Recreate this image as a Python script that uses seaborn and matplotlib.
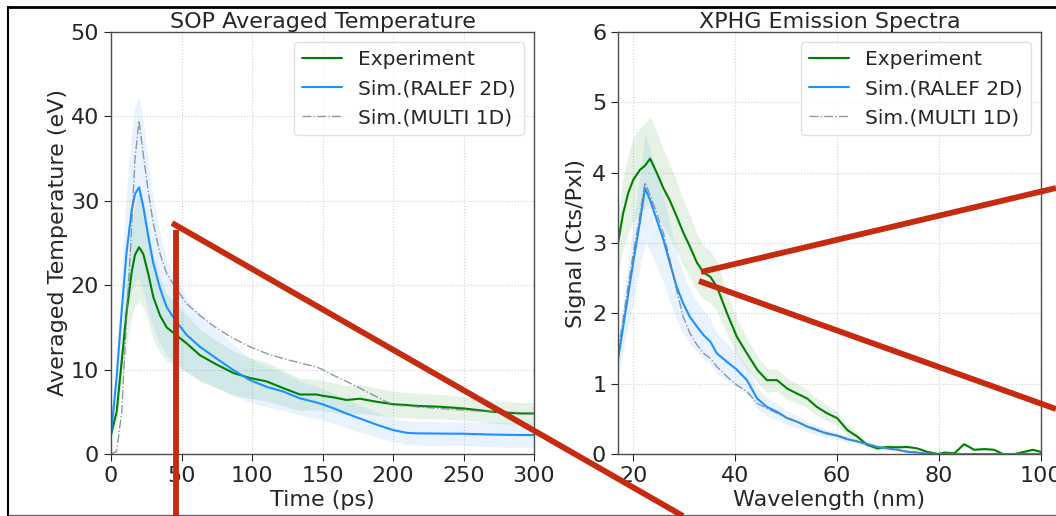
import numpy as np
import pandas as pd
import matplotlib
matplotlib.use("Agg")
import matplotlib.pyplot as plt
from matplotlib.lines import Line2D
import seaborn as sns

# ---------------- data: left panel (SOP averaged temperature) ----------------
time_ps = [0, 4, 7.6, 11.1, 14.7, 17, 19.9, 22.9, 26.5, 30, 34.8, 39.5, 45.4, 53.7,
           63.1, 74.9, 86.8, 98.6, 110.4, 122.2, 134, 145.9, 150, 158, 167, 176.6,
           188, 200, 210, 217, 233, 250, 271, 290, 300]
exp_temp = [2.3, 5.0, 11, 16.9, 21.6, 23.6, 24.5, 23.7, 21.3, 18.6, 16.4, 15.0, 14.2, 13.1,
            11.7, 10.6, 9.6, 9.0, 8.6, 7.8, 7.05, 7.05, 6.9, 6.7, 6.4, 6.55,
            6.2, 5.9, 5.8, 5.7, 5.6, 5.4, 5.0, 4.8, 4.8]
exp_temp_err = [0.5, 1.2, 2.5, 4, 5.3, 6, 6.5, 6.3, 5.6, 5, 4.4, 4, 3.7, 3.4,
                3.1, 2.8, 2.6, 2.4, 2.3, 2.1, 1.9, 1.8, 1.8, 1.75, 1.7, 1.7,
                1.6, 1.55, 1.5, 1.5, 1.45, 1.4, 1.35, 1.3, 1.3]
ralef_temp = [2.3, 9.1, 17, 24, 28.9, 30.8, 31.6, 29.3, 25.7, 22.6, 19.6, 17.4, 15.9, 14.1,
              12.7, 11.3, 9.94, 8.75, 7.96, 7.4, 6.6, 6.1, 5.9, 5.4, 4.8, 4.2,
              3.5, 2.84, 2.5, 2.45, 2.42, 2.4, 2.3, 2.25, 2.25]
ralef_temp_err = [0.6, 2.5, 5, 7.5, 9.5, 10.3, 10.7, 10, 8.8, 7.6, 6.5, 5.7, 5.0, 4.4,
                  3.9, 3.4, 3.0, 2.6, 2.4, 2.2, 2.0, 1.9, 1.85, 1.8, 1.7, 1.6,
                  1.5, 1.4, 1.4, 1.4, 1.4, 1.4, 1.45, 1.5, 1.5]
multi_temp = [0, 0.3, 5, 16.3, 27, 35, 39.5, 35.5, 31, 27.3, 23.7, 21.4, 19.8, 17.8,
              16.4, 14.9, 13.7, 12.7, 11.9, 11.3, 10.8, 10.3, 10.0, 9.3, 8.6, 7.8,
              6.8, 5.8, 5.7, 5.6, 5.4, 5.2, 5.0, 4.9, 4.85]

# ---------------- data: right panel (XPHG emission spectra) ----------------
wavelength_nm = [17, 18, 19, 20, 21.3, 22.3, 23.3, 24.6, 25.9, 27.2, 28.5, 29.8, 31.1, 32.5,
                 33.8, 35.1, 36.4, 38.4, 40.3, 42.3, 44.3, 46.2, 48.2, 50.2, 52.1, 54.1,
                 56, 58, 60, 62, 63.9, 65.9, 67.9, 69.8, 71.8, 73.8, 75.7, 77.7, 79.7,
                 81, 83, 84.9, 86.9, 88.9, 90.8, 92.5, 94.8, 96.7, 98.4, 100]
exp_signal = [3.0, 3.42, 3.71, 3.9, 4.04, 4.1, 4.2, 4.0, 3.78, 3.6, 3.38, 3.15, 2.95, 2.72,
              2.58, 2.52, 2.38, 2.0, 1.67, 1.43, 1.2, 1.05, 1.05, 0.93, 0.86, 0.79,
              0.67, 0.58, 0.51, 0.34, 0.25, 0.13, 0.08, 0.10, 0.095, 0.10, 0.08, 0.03, 0.0,
              0.02, 0.01, 0.14, 0.06, 0.07, 0.06, 0.0, 0.0, 0.03, 0.06, 0.03]
exp_signal_err = [0.45, 0.5, 0.55, 0.6, 0.6, 0.6, 0.6, 0.58, 0.55, 0.52, 0.5, 0.47, 0.44, 0.4,
                  0.38, 0.37, 0.35, 0.3, 0.26, 0.22, 0.19, 0.17, 0.16, 0.15, 0.14, 0.13,
                  0.12, 0.11, 0.1, 0.08, 0.06, 0.04, 0.03, 0.02, 0.02, 0.02, 0.02, 0.02, 0.02,
                  0.02, 0.02, 0.02, 0.02, 0.02, 0.02, 0.02, 0.02, 0.02, 0.02, 0.02]
ralef_signal = [1.34, 1.8, 2.27, 2.73, 3.3, 3.78, 3.61, 3.33, 3.05, 2.71, 2.38, 2.14, 1.95, 1.81,
                1.69, 1.6, 1.43, 1.31, 1.2, 1.05, 0.79, 0.67, 0.6, 0.51, 0.46, 0.39,
                0.34, 0.29, 0.26, 0.21, 0.18, 0.14, 0.10, 0.08, 0.06, 0.03, 0.02, 0.005, 0.0,
                0, 0, 0, 0, 0, 0, 0, 0, 0, 0, 0]
ralef_signal_err = [0.25, 0.35, 0.45, 0.55, 0.65, 0.78, 0.72, 0.66, 0.6, 0.55, 0.48, 0.43, 0.39, 0.36,
                    0.34, 0.32, 0.29, 0.26, 0.24, 0.2, 0.15, 0.13, 0.12, 0.1, 0.09, 0.08,
                    0.07, 0.06, 0.05, 0.04, 0.035, 0.03, 0.02, 0.015, 0.01, 0.01, 0.005, 0.0, 0.0,
                    0, 0, 0, 0, 0, 0, 0, 0, 0, 0, 0]
multi_signal = [1.45, 1.92, 2.4, 2.85, 3.4, 3.86, 3.68, 3.42, 3.14, 2.76, 2.33, 1.95, 1.72, 1.55,
                1.43, 1.36, 1.24, 1.10, 0.98, 0.89, 0.72, 0.65, 0.58, 0.51, 0.46, 0.40,
                0.35, 0.30, 0.27, 0.22, 0.18, 0.14, 0.11, 0.08, 0.06, 0.04, 0.025, 0.01, 0.0,
                0, 0, 0, 0, 0, 0, 0, 0, 0, 0, 0]

labels = ["Experiment", "Sim.(RALEF 2D)", "Sim.(MULTI 1D)"]

# ---------------- style ----------------
sns.set_style("whitegrid", {"grid.linestyle": ":", "grid.color": "0.82",
                            "axes.edgecolor": "0.3", "xtick.bottom": True,
                            "ytick.left": True, "xtick.color": "0.15",
                            "ytick.color": "0.15"})
plt.rcParams["font.family"] = ["DejaVu Sans"]
FS = 16
plt.rcParams.update({"xtick.labelsize": FS, "ytick.labelsize": FS,
                     "axes.labelsize": FS, "axes.titlesize": FS,
                     "legend.fontsize": 14.5, "xtick.major.size": 5,
                     "ytick.major.size": 5, "axes.linewidth": 1.0})

W, H = 1056, 516
fig = plt.figure(figsize=(W / 100, H / 100), dpi=100)
ax1 = fig.add_axes([111 / W, 1 - 454 / H, 423 / W, 422 / H])
ax2 = fig.add_axes([618 / W, 1 - 454 / H, 423 / W, 422 / H])

GREEN = "green"
BLUE = "dodgerblue"
GRAY = "slategray"

def panel(ax, x, exp, exp_err, ralef, ralef_err, multi):
    x = np.asarray(x, float)
    exp = np.asarray(exp, float); exp_err = np.asarray(exp_err, float)
    ralef = np.asarray(ralef, float); ralef_err = np.asarray(ralef_err, float)
    ax.fill_between(x, exp - exp_err, exp + exp_err, color=GREEN, alpha=0.1, lw=0)
    ax.fill_between(x, np.clip(ralef - ralef_err, 0, None), ralef + ralef_err,
                    color=BLUE, alpha=0.1, lw=0)
    sns.lineplot(x=x, y=exp, ax=ax, color=GREEN, lw=1.5, label=labels[0], sort=False)
    sns.lineplot(x=x, y=ralef, ax=ax, color=BLUE, lw=1.5, label=labels[1], sort=False)
    sns.lineplot(x=x, y=multi, ax=ax, color=GRAY, lw=1.0, ls="-.", alpha=0.8,
                 label=labels[2], sort=False)
    leg = ax.legend(loc="upper right", frameon=True, fancybox=True)
    leg.get_frame().set_edgecolor("0.85")

panel(ax1, time_ps, exp_temp, exp_temp_err, ralef_temp, ralef_temp_err, multi_temp)
ax1.set_xlim(0, 300)
ax1.set_ylim(0, 50)
ax1.set_xticks(np.arange(0, 301, 50))
ax1.set_yticks(np.arange(0, 51, 10))
ax1.set_title("SOP Averaged Temperature", pad=3)
ax1.set_xlabel("Time (ps)", labelpad=3)
ax1.set_ylabel("Averaged Temperature (eV)", labelpad=2)

panel(ax2, wavelength_nm, exp_signal, exp_signal_err, ralef_signal, ralef_signal_err, multi_signal)
ax2.set_xlim(17, 100)
ax2.set_ylim(0, 6)
ax2.set_xticks(np.arange(20, 101, 20))
ax2.set_yticks(np.arange(0, 7, 1))
ax2.set_title("XPHG Emission Spectra", pad=3)
ax2.set_xlabel("Wavelength (nm)", labelpad=3)
ax2.set_ylabel("Signal (Cts/Pxl)", labelpad=4)

# ---------------- slide decorations (frame + red annotation strokes) ----------------
def fig_line(p0, p1, color, lw):
    fig.add_artist(Line2D([p0[0] / W, p1[0] / W], [1 - p0[1] / H, 1 - p1[1] / H],
                          transform=fig.transFigure, color=color, lw=lw,
                          solid_capstyle="butt", zorder=10))

fig_line((7, 7), (W, 7), "black", 2.0)
fig_line((8, 6), (8, H), "black", 1.5)
fig_line((8, 515), (W, 515), "0.4", 1.0)

RED = "#c62a0f"
fig_line((176, 230), (176, H), RED, 4.2)
fig_line((172, 223), (683, 516), RED, 4.2)
fig_line((701, 272), (W, 188), RED, 4.2)
fig_line((699, 281), (W, 409), RED, 4.2)

fig.savefig("out.png", dpi=100)
